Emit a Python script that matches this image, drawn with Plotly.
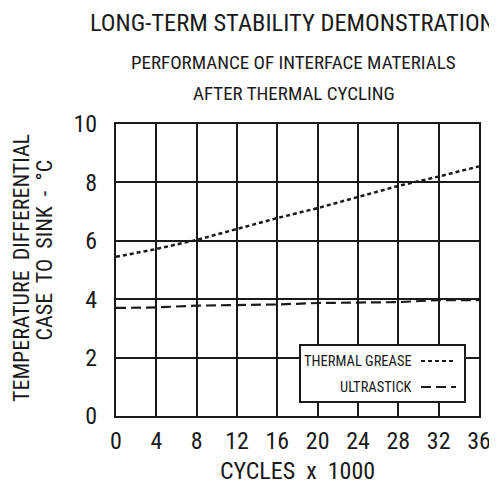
import plotly.graph_objects as go

cycles = [0, 4, 8, 12, 16, 20, 24, 28, 32, 36]
thermal_grease = [5.45, 5.72, 6.03, 6.4, 6.78, 7.12, 7.5, 7.88, 8.2, 8.55]
ultrastick = [3.7, 3.72, 3.78, 3.8, 3.82, 3.87, 3.88, 3.9, 3.97, 3.97]
x_ticks = [0, 4, 8, 12, 16, 20, 24, 28, 32, 36]
y_ticks = [0, 2, 4, 6, 8, 10]

FONT = "Roboto Condensed"
INK = "#1a1a1a"

fig = go.Figure()
fig.add_trace(go.Scatter(x=cycles, y=thermal_grease, mode="lines", name="THERMAL GREASE",
                         line=dict(color=INK, width=2.5, dash="4px,3px"), showlegend=False))
fig.add_trace(go.Scatter(x=cycles, y=ultrastick, mode="lines", name="ULTRASTICK",
                         line=dict(color=INK, width=2.2, dash="10px,5px"), showlegend=False))

axis_common = dict(showgrid=True, gridcolor=INK, gridwidth=2, zeroline=False,
                   showline=True, linecolor=INK, linewidth=2, mirror=True, automargin=False,
                   ticks="", tickfont=dict(family=FONT, size=24, color=INK))
fig.update_xaxes(range=[0, 36], tickvals=x_ticks, **axis_common, ticklabelstandoff=2,
                 title=dict(text="CYCLES  x  1000", font=dict(family=FONT, size=24, color=INK), standoff=8))
fig.update_yaxes(range=[0, 10], tickvals=y_ticks, **axis_common, ticklabelstandoff=12)

# Titles
titles = [("LONG-TERM STABILITY DEMONSTRATION", 1.349, 24.5, 0.485),
          ("PERFORMANCE OF INTERFACE MATERIALS", 1.212, 19, 0.49),
          ("AFTER THERMAL CYCLING", 1.106, 19, 0.49)]
for txt, yy, sz, xx in titles:
    fig.add_annotation(text=txt, x=xx, y=yy, xref="paper", yref="paper", showarrow=False,
                       font=dict(family=FONT, size=sz, color=INK), xanchor="center", yanchor="middle")

# Y axis title (two rotated lines)
fig.add_annotation(text="TEMPERATURE  DIFFERENTIAL", x=-0.259, y=0.507,
                   xref="paper", yref="paper", showarrow=False, textangle=-90,
                   xanchor="center", yanchor="middle",
                   font=dict(family=FONT, size=22, color=INK))
fig.add_annotation(text="CASE  TO  SINK  -  °C", x=-0.196, y=0.57, xref="paper", yref="paper",
                   showarrow=False, textangle=-90, xanchor="center", yanchor="middle",
                   font=dict(family=FONT, size=22, color=INK))

# Legend box (drawn manually: text then line sample)
x0 = (300 - 116) / 363
x1 = (465 - 116) / 363
y0 = (416 - 402) / 292
y1 = (416 - 345) / 292
fig.add_shape(type="rect", xref="paper", yref="paper", x0=x0, x1=x1, y0=y0, y1=y1,
              fillcolor="white", line=dict(color=INK, width=2), layer="above")
leg = [("THERMAL GREASE", (416 - 361) / 292, "4px,3px"), ("ULTRASTICK", (416 - 387) / 292, "10px,5px")]
lx0 = (421 - 116) / 363
lx1 = (456 - 116) / 363
for txt, yy, dsh in leg:
    fig.add_annotation(text=txt, x=(414 - 116) / 363, y=yy, xref="paper", yref="paper", showarrow=False,
                       xanchor="right", yanchor="middle", font=dict(family=FONT, size=14.5, color=INK))
    fig.add_shape(type="line", xref="paper", yref="paper", x0=lx0, x1=lx1, y0=yy, y1=yy,
                  line=dict(color=INK, width=2, dash=dsh), layer="above")

# page body adds an 8px offset; compensate so the plot area sits where the reference's does
fig.update_layout(width=489, height=488, margin=dict(l=108, r=18, t=116, b=80),
                  plot_bgcolor="white", paper_bgcolor="white", showlegend=False)
fig.write_html("out.html")
